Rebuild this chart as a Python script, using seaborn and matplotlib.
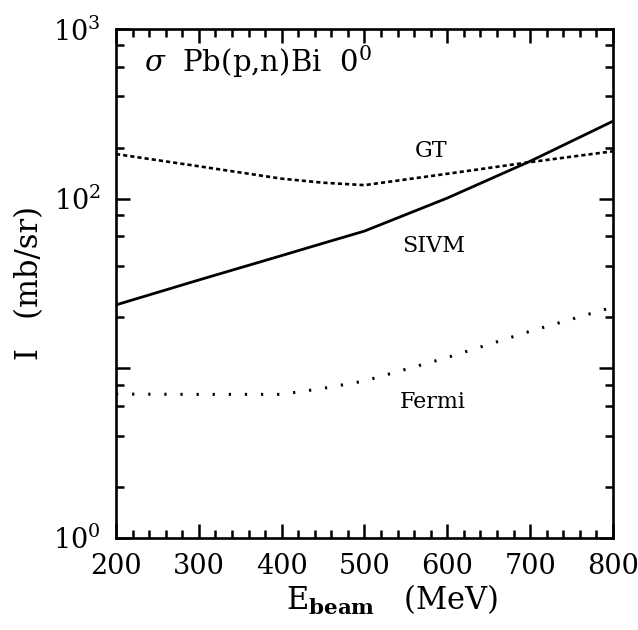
import numpy as np
import pandas as pd
import seaborn as sns
import matplotlib.pyplot as plt
from matplotlib.ticker import FixedLocator, FixedFormatter, LogLocator, MultipleLocator, NullFormatter

# beam energies (MeV) and curve values (mb/sr)
energy = [200, 300, 400, 450, 500, 600, 700, 800]
sivm = [23.6, 33.1, 46.1, 54.5, 64.3, 100.7, 166.0, 286.0]
gt = [183.0, 155.0, 131.0, 124.0, 120.0, 140.0, 164.0, 190.0]
fermi = [7.03, 7.0, 7.0, 7.6, 8.4, 11.55, 16.5, 22.9]

x_ticks = [200, 300, 400, 500, 600, 700, 800]
y_ticks = [1, 10, 100, 1000]
y_tick_labels = [r"$10^0$", "", r"$10^2$", r"$10^3$"]


def main():
    df = pd.DataFrame({"E": energy, "SIVM": sivm, "GT": gt, "Fermi": fermi})

    sns.set_style("ticks")
    plt.rcParams["font.family"] = ["DejaVu Serif"]
    plt.rcParams["mathtext.fontset"] = "dejavuserif"
    plt.rcParams["lines.scale_dashes"] = False
    plt.rcParams["text.color"] = "black"
    plt.rcParams["axes.labelcolor"] = "black"
    plt.rcParams["xtick.color"] = "black"
    plt.rcParams["ytick.color"] = "black"

    fig = plt.figure(figsize=(6.38, 6.30), dpi=100)
    ax = fig.add_axes([0.1818, 0.1465, 0.779, 0.8075])

    sns.lineplot(data=df, x="E", y="SIVM", ax=ax, color="black", lw=2.0)
    sns.lineplot(data=df, x="E", y="GT", ax=ax, color="black", lw=1.9,
                 linestyle=(0, (3.0, 2.2)))
    sns.lineplot(data=df, x="E", y="Fermi", ax=ax, color="black", lw=2.2,
                 linestyle=(0, (1.6, 10.0)))

    ax.set_yscale("log")
    ax.set_xlim(200, 800)
    ax.set_ylim(1, 1000)

    ax.xaxis.set_major_locator(FixedLocator(x_ticks))
    ax.xaxis.set_minor_locator(MultipleLocator(20))
    ax.yaxis.set_major_locator(FixedLocator(y_ticks))
    ax.yaxis.set_major_formatter(FixedFormatter(y_tick_labels))
    ax.yaxis.set_minor_locator(LogLocator(base=10, subs=[2, 4, 6, 8]))
    ax.yaxis.set_minor_formatter(NullFormatter())

    ax.tick_params(which="both", direction="in", top=True, right=True,
                   width=1.8, color="black", labelsize=19.5, labelcolor="black")
    ax.tick_params(which="major", length=10, pad=11)
    ax.tick_params(which="minor", length=5.8)
    for sp in ax.spines.values():
        sp.set_linewidth(1.9)
        sp.set_color("black")

    ax.set_xlabel(r"$\mathrm{E}_{\mathbf{beam}}$   (MeV)", fontsize=22)
    ax.xaxis.set_label_coords(0.555, -0.088)
    ax.set_ylabel("I   (mb/sr)", fontsize=22, labelpad=6)

    ax.text(0.057, 0.935, r"$\sigma$  Pb(p,n)Bi  0$^0$", transform=ax.transAxes,
            fontsize=21, ha="left", va="center")
    ax.text(580, 190, "GT", fontsize=16, ha="center", va="center")
    ax.text(583, 52.5, "SIVM", fontsize=16, ha="center", va="center")
    ax.text(582, 6.35, "Fermi", fontsize=16, ha="center", va="center")

    fig.savefig("out.png", dpi=100)
    plt.close(fig)


if __name__ == "__main__":
    main()
